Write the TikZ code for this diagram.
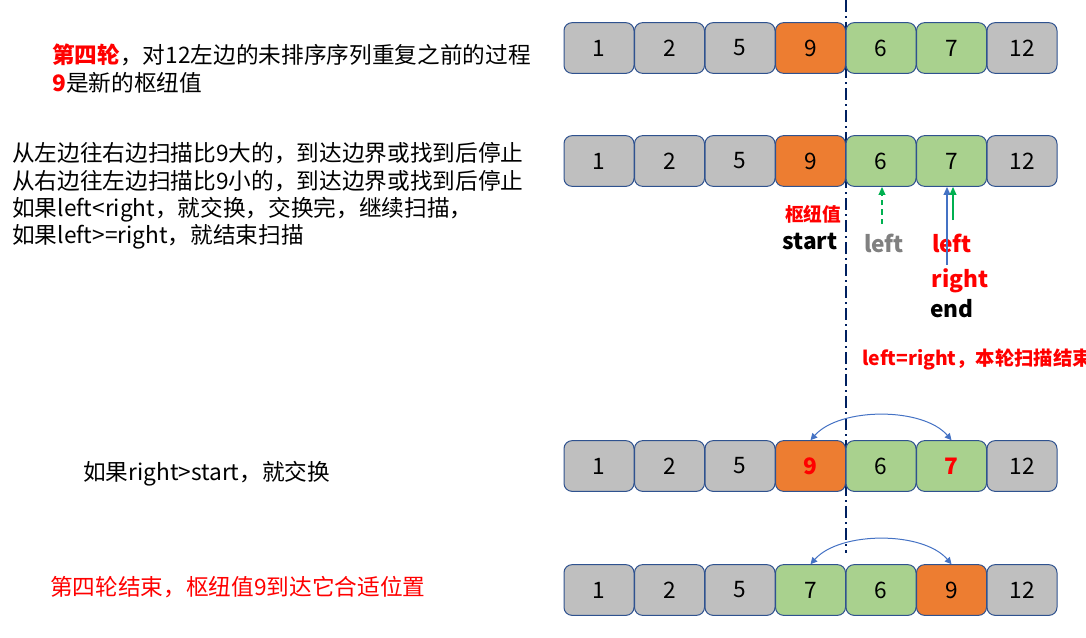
\documentclass[tikz,border=0pt]{standalone}
\usepackage{fontspec}
\setmainfont{Noto Sans CJK SC}
\usetikzlibrary{arrows.meta,positioning}
\definecolor{cellgray}{HTML}{BFBFBF}
\definecolor{cellorange}{HTML}{ED7D31}
\definecolor{cellgreen}{HTML}{A9D18E}
\definecolor{cellline}{HTML}{2F528F}
\definecolor{swapblue}{HTML}{4472C4}
\definecolor{ptrgreen}{HTML}{00B050}
\definecolor{axisnavy}{HTML}{002060}
\definecolor{oldgray}{HTML}{808080}
\tikzset{cell/.style={draw=cellline,line width=0.75pt,rounded corners=6pt,minimum width=52.5pt,minimum height=38pt,inner sep=0pt,font=\fontsize{17}{20}\selectfont},
txt/.style={anchor=west,align=left,inner sep=0pt,font=\fontsize{17}{20.5}\selectfont},
lbl/.style={inner sep=0pt,font=\fontsize{17}{20}\selectfont\bfseries},
swap/.style={{Triangle[width=5pt,length=5pt]}-{Triangle[width=5pt,length=5pt]},draw=swapblue,line width=0.75pt},
up/.style={-{Triangle[width=5pt,length=6pt]},line width=1.1pt}}

\begin{document}
\begin{tikzpicture}[x=0.75pt,y=-0.75pt]
\useasboundingbox(0,0)rectangle(1086,637);
% pivot divider
\coordinate(axtop)at(846,0);
\coordinate(axbot)at(846,553);
\draw[axisnavy,line width=1.5pt,dash pattern=on 9pt off 3pt on 1.5pt off 3pt](axtop)--(axbot);
% rows of cells
\foreach\v/\c[count=\i]in{1/cellgray,2/cellgray,5/cellgray,9/cellorange,6/cellgreen,7/cellgreen,12/cellgray}{
\node[cell,fill=\c](a\i)at({599+70.5*(\i-1)},48){\v};
\node[cell,fill=\c](b\i)at({599+70.5*(\i-1)},161){\v};}
\foreach\v/\c[count=\i]in{1/cellgray,2/cellgray,5/cellgray,{\textcolor{red}{\bfseries 9}}/cellorange,6/cellgreen,{\textcolor{red}{\bfseries 7}}/cellgreen,12/cellgray}
\node[cell,fill=\c](c\i)at({599+70.5*(\i-1)},466){\v};
\foreach\v/\c[count=\i]in{1/cellgray,2/cellgray,5/cellgray,7/cellgreen,6/cellgreen,9/cellorange,12/cellgray}
\node[cell,fill=\c](d\i)at({599+70.5*(\i-1)},590){\v};
% explanations
\node[txt](title)at(52,68.5){\textcolor{red}{\bfseries 第四轮}，对12左边的未排序序列重复之前的过程\\\textcolor{red}{\bfseries 9}是新的枢纽值};
\node[txt](rules)at(12,196){从左边往右边扫描比9大的，到达边界或找到后停止\\从右边往左边扫描比9小的，到达边界或找到后停止\\如果left<right，就交换，交换完，继续扫描，\\如果left>=right，就结束扫描};
\node[txt](swaptxt)at(83,474){如果right>start，就交换};
\node[txt,text=red](donetxt)at(50,587){第四轮结束，枢纽值9到达它合适位置};
% pointers
\node[lbl,text=red,font=\fontsize{14}{16}\selectfont\bfseries](pivotlbl)at(813,214){枢纽值};
\node[lbl](startlbl)at(810,241){start};
\node[lbl,text=oldgray](leftold)at(884,243){left};
\node[lbl,text=red](leftnew)at(952,243){left};
\node[lbl,text=red](rightlbl)at(960,281){right};
\node[lbl](endlbl)at(952,309){end};
\node[lbl,text=red,anchor=west,font=\fontsize{14.5}{16}\selectfont\bfseries](scanend)at(862,359){left=right，本轮扫描结束};
\coordinate(gl)at(882,224);
\coordinate(bl)at(947,265);
\coordinate(gr)at(953,220);
\draw[up,ptrgreen,dash pattern=on 4pt off 3pt](gl)--(gl|-b5.south);
\draw[up,swapblue](bl)--(bl|-b6.south);
\draw[up,ptrgreen](gr)--(gr|-b6.south);
% swaps
\draw[swap](c4.north)..controls(840,407)and(923,407)..(c6.north);
\draw[swap](d4.north)..controls(840,531)and(923,531)..(d6.north);
\end{tikzpicture}
\end{document}
